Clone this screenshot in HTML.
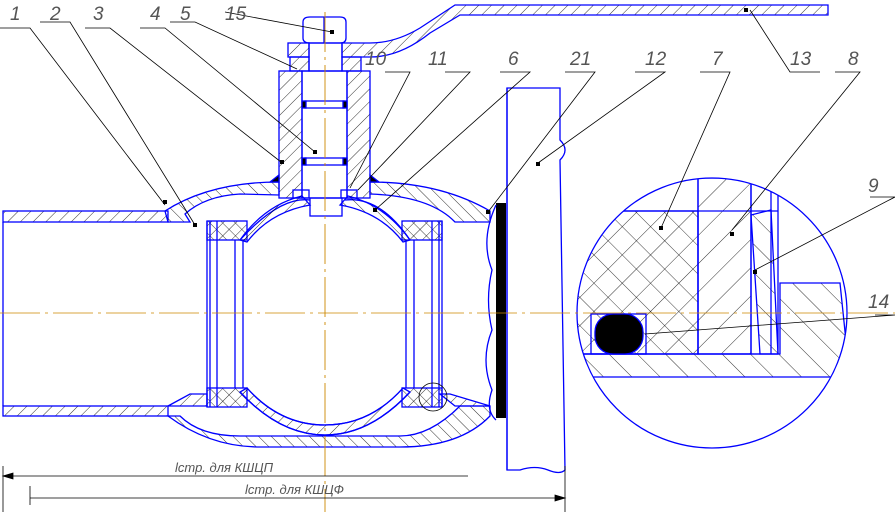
<!DOCTYPE html>
<html><head><meta charset="utf-8"><style>
body{margin:0;background:#fff}
svg{display:block}
text{font-family:"Liberation Sans",sans-serif;font-style:italic;fill:#555;font-size:19px}
</style></head><body>
<svg width="895" height="516" viewBox="0 0 895 516" xmlns="http://www.w3.org/2000/svg">
<defs>
<pattern id="h" width="9" height="9" patternUnits="userSpaceOnUse" patternTransform="rotate(45)"><line x1="0" y1="0" x2="0" y2="9" stroke="#000" stroke-width="0.8"/></pattern>
<pattern id="h2" width="9" height="9" patternUnits="userSpaceOnUse" patternTransform="rotate(-45)"><line x1="0" y1="0" x2="0" y2="9" stroke="#000" stroke-width="0.8"/></pattern>
<pattern id="x" width="9" height="9" patternUnits="userSpaceOnUse" patternTransform="rotate(45)"><path d="M0 0V9M0 0H9" stroke="#000" stroke-width="0.8"/></pattern>
<pattern id="hb" width="20" height="20" patternUnits="userSpaceOnUse" patternTransform="rotate(45)"><line x1="0" y1="0" x2="0" y2="20" stroke="#000" stroke-width="0.8"/></pattern>
<pattern id="hb2" width="20" height="20" patternUnits="userSpaceOnUse" patternTransform="rotate(-45)"><line x1="0" y1="0" x2="0" y2="20" stroke="#000" stroke-width="0.8"/></pattern>
<pattern id="xb" width="20" height="20" patternUnits="userSpaceOnUse" patternTransform="rotate(45)"><path d="M0 0V20M0 0H20" stroke="#000" stroke-width="0.8"/></pattern>
<clipPath id="c"><circle cx="712" cy="313" r="135"/></clipPath>
</defs>
<g stroke="#00f" stroke-width="1.3" fill="none">
<!-- pipes -->
<rect x="3" y="211" width="165" height="11" fill="url(#h)"/>
<rect x="3" y="406" width="165" height="10" fill="url(#h)"/>
<line x1="3" y1="222" x2="3" y2="406"/>
<!-- body top -->
<path d="M165 211 Q210 182 279 182 L279 195 L240 194 Q205 196 185 214 L190 222 L168 222 Z" fill="url(#h2)"/>
<path d="M370 182 Q440 182 490 211 L490 222 L455 222 Q430 196 370 194 Z" fill="url(#h2)"/>
<!-- body bottom -->
<path d="M168 416 Q210 447 260 447 L400 447 Q460 447 490 416 L490 406 L460 406 Q430 436 400 436 L240 436 Q200 436 180 416 Z" fill="url(#h2)"/>
<path d="M168 406 L190 394 L207 394 L207 406 Z" fill="url(#h)"/>
<path d="M455 406 L440 394 L450 394 L490 406 Z" fill="url(#h)"/>
<!-- seat rings -->
<rect x="207" y="221" width="40" height="19" fill="url(#x)"/>
<rect x="207" y="388" width="40" height="19" fill="url(#x)"/>
<rect x="402" y="221" width="40" height="19" fill="url(#x)"/>
<rect x="402" y="388" width="40" height="19" fill="url(#x)"/>
<path d="M207 221V407M210 221V407M217 221V407M235 240V388M243 240V388"/>
<path d="M442 221V407M439 221V407M432 221V407M414 240V388M406 240V388"/>
<!-- ball -->
<path d="M240 240 Q280 196 310 200 M345 200 Q380 196 410 240" stroke-width="1.3"/>
<path d="M240 240 Q265 205 302 196 L310 205 Q270 212 247 242 Z" fill="url(#h)"/>
<path d="M410 240 Q385 205 348 196 L340 205 Q380 212 403 242 Z" fill="url(#h2)"/>
<path d="M247 388 Q280 425 325 425 Q370 425 403 388"/>
<path d="M240 392 Q280 435 325 435 Q370 435 410 392" fill="none"/>
<path d="M247 388 Q280 425 325 425 Q370 425 403 388 L410 392 Q370 435 325 435 Q280 435 240 392Z" fill="url(#h)"/>
<!-- stem housing -->
<rect x="279" y="71" width="23" height="127" fill="url(#h)"/>
<rect x="347" y="71" width="23" height="127" fill="url(#h)"/>
<rect x="302" y="71" width="45" height="127"/>
<rect x="305" y="101" width="39" height="7"/>
<rect x="305" y="158" width="39" height="7"/>
<rect x="302" y="101" width="4" height="7" fill="#000"/><rect x="343" y="101" width="4" height="7" fill="#000"/>
<rect x="302" y="158" width="4" height="7" fill="#000"/><rect x="343" y="158" width="4" height="7" fill="#000"/>
<path d="M270 182 L279 175 L279 182Z M379 182 L370 175 L370 182Z" fill="#000"/>
<rect x="310" y="198" width="32" height="18"/>
<rect x="293" y="190" width="16" height="8"/><rect x="341" y="190" width="16" height="8"/>
<!-- nut, stem top, handle -->
<rect x="309" y="43" width="33" height="28"/>
<path d="M303 22 Q303 17 310 17 L340 17 Q346 17 346 22 L346 38 Q346 43 340 43 L310 43 Q303 43 303 38Z"/>
<line x1="324" y1="17" x2="324" y2="43"/>
<rect x="288" y="43" width="21" height="14" fill="url(#h)"/>
<rect x="290" y="57" width="19" height="14" fill="url(#h)"/>
<rect x="342" y="57" width="19" height="14" fill="url(#h)"/>
<path d="M342 43 L370 43 Q395 43 420 28 L455 5 L828 5 L828 15 L460 15 L430 33 Q400 57 370 57 L342 57Z" fill="url(#h)"/>
<!-- flange 12 -->
<path d="M507 88 L560 88 L560 140 Q570 150 560 160 L565 470 Q560 475 548 470 Q535 465 520 470 L507 470 Z" fill="#fff"/>
<rect x="496" y="203" width="10" height="215" fill="#000" stroke="none"/>
<path d="M496 205 Q480 240 492 270 Q485 300 492 330 Q480 360 492 390 Q485 410 496 420"/>
<circle cx="433" cy="397" r="14" stroke="#000" stroke-width="0.8"/>
<!-- detail circle -->
<g clip-path="url(#c)">
<rect x="576" y="211" width="122" height="143" fill="url(#xb)"/>
<rect x="698" y="178" width="53" height="176" fill="url(#hb)"/>
<path d="M751 215 L771 210 L778 354 L760 354Z" fill="url(#hb2)"/>
<path d="M580 354 L780 354 L780 283 L840 283 L850 380 L580 377Z" fill="url(#hb2)"/>
<rect x="570" y="377" width="300" height="80" fill="#fff" stroke="none"/>
<line x1="570" y1="377" x2="860" y2="377"/>
<line x1="576" y1="211" x2="778" y2="211"/>
<path d="M698 178V354M751 178V354M771 190V354M778 190V354M580 354H778"/>
<rect x="591" y="314" width="55" height="40"/>
<rect x="595" y="314" width="48" height="40" rx="18" fill="#000"/>
</g>
<circle cx="712" cy="313" r="135"/>
<line x1="507" y1="88" x2="507" y2="470"/>
</g>
<!-- centerlines -->
<line x1="0" y1="313" x2="895" y2="313" stroke="#c80" stroke-width="0.8" stroke-dasharray="40 5 3 5"/>
<line x1="325" y1="12" x2="325" y2="512" stroke="#c80" stroke-width="0.9" stroke-dasharray="40 5 3 5"/>
<!-- leaders -->
<g stroke="#000" stroke-width="0.8" fill="none">
<path d="M0 28H30L165 205M40 22H70L195 225M85 28H110L281 162M140 28H165L315 152M170 22H195L297 69M225 12L332 32M385 72H410L350 188M445 72H470L358 190M500 72H530L375 210M565 72H595L488 212M635 72H665L538 163M700 72H730L661 228M835 72H860L732 230M870 197H895L755 270M875 315H895L645 334M820 72H790L750 10"/>
<path d="M3 466V512M565 466V512M3 476H468M30 498H565M30 486V505"/>
<path d="M3 476l10 -3v6z M565 498l-10 -3v6z" fill="#000"/>
</g>
<g fill="#000"><rect x="163" y="200" width="4" height="4"/><rect x="193" y="223" width="4" height="4"/><rect x="280" y="160" width="4" height="4"/><rect x="313" y="150" width="4" height="4"/><rect x="536" y="162" width="4" height="4"/><rect x="373" y="208" width="4" height="4"/><rect x="659" y="226" width="4" height="4"/><rect x="730" y="232" width="4" height="4"/><rect x="753" y="270" width="4" height="4"/><rect x="744" y="8" width="4" height="4"/><rect x="330" y="30" width="4" height="4"/><rect x="486" y="210" width="4" height="4"/></g>
<text x="10" y="20">1</text><text x="50" y="20">2</text><text x="93" y="20">3</text>
<text x="150" y="20">4</text><text x="180" y="20">5</text><text x="225" y="20">15</text>
<text x="365" y="65">10</text><text x="428" y="65">11</text><text x="508" y="65">6</text>
<text x="570" y="65">21</text><text x="645" y="65">12</text><text x="712" y="65">7</text>
<text x="848" y="65">8</text><text x="868" y="192">9</text><text x="868" y="308">14</text>
<text x="790" y="65">13</text>
<text x="175" y="472" style="font-size:13px">lстр.   для КШЦП</text>
<text x="245" y="494" style="font-size:13px">lстр.  для КШЦФ</text>
</svg>
</body></html>
